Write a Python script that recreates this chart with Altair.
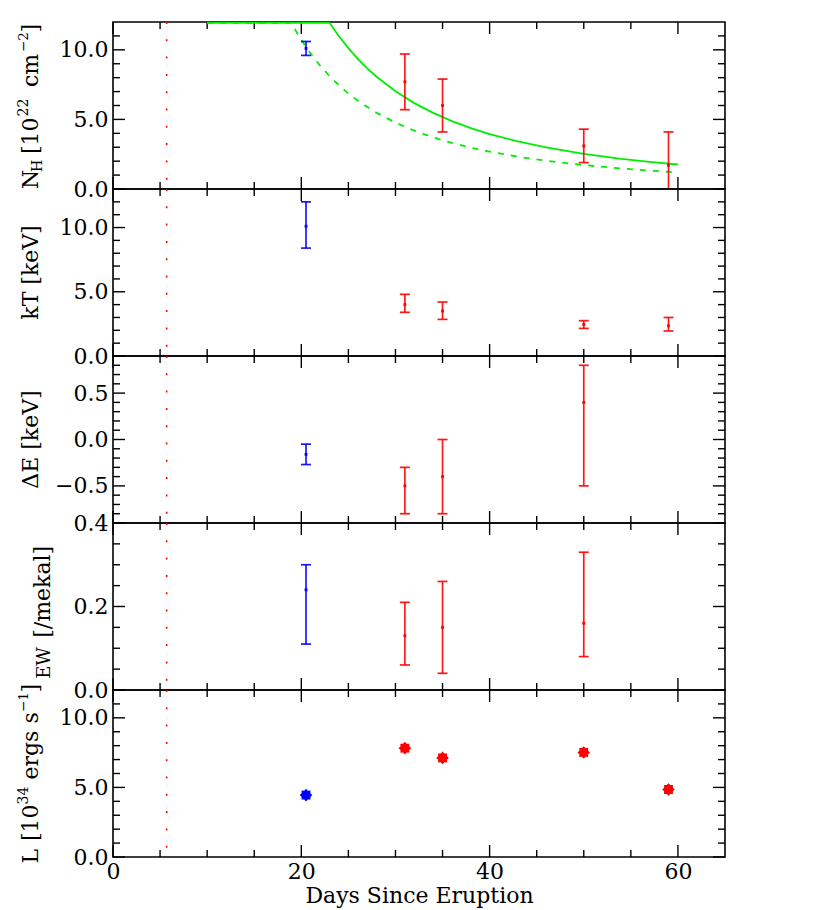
import altair as alt
import pandas as pd

FONT = "'DejaVu Serif', 'Liberation Serif', serif"
W = 612
H = 167

# ---------------- data ----------------
days = [20.5, 31.0, 35.0, 50.0, 59.0]
obs_set = ["first", "later", "later", "later", "later"]

nh = [10.1, 7.7, 6.0, 3.1, 1.7]
nh_lo = [9.6, 5.7, 4.1, 1.9, -1.0]
nh_hi = [10.6, 9.7, 7.9, 4.3, 4.1]

kt = [10.1, 4.0, 3.5, 2.45, 2.35]
kt_lo = [8.4, 3.4, 2.85, 2.15, 1.95]
kt_hi = [12.0, 4.8, 4.2, 2.75, 3.0]

line_days = [20.5, 31.0, 35.0, 50.0]
line_set = ["first", "later", "later", "later"]
de = [-0.16, -0.50, -0.40, 0.40]
de_lo = [-0.27, -0.80, -0.80, -0.50]
de_hi = [-0.05, -0.30, 0.00, 0.80]

ew = [0.24, 0.13, 0.15, 0.16]
ew_lo = [0.11, 0.06, 0.04, 0.08]
ew_hi = [0.30, 0.21, 0.26, 0.33]

lum = [4.45, 7.82, 7.12, 7.51, 4.85]

solid_days = [10, 23.0, 24, 25, 26, 27, 28, 30, 32, 34, 36, 38, 40, 43, 46, 50, 54, 57, 60]
solid_nh = [11.93, 11.93, 10.98, 10.12, 9.35, 8.67, 8.07, 7.03, 6.17, 5.47, 4.88, 4.38, 3.95,
            3.42, 2.99, 2.53, 2.17, 1.95, 1.76]
dashed_days = [10, 18.9, 19.5, 20, 21, 22, 23, 24, 25, 26, 28, 30, 32, 34, 36, 38, 40,
               43, 46, 50, 54, 57, 60]
dashed_nh = [11.93, 11.93, 11.28, 10.72, 9.73, 8.86, 8.11, 7.45, 6.86, 6.34, 5.47, 4.77, 4.19,
             3.71, 3.31, 2.97, 2.68, 2.32, 2.03, 1.72, 1.47, 1.32, 1.19]

eruption_day = [5.7]

# tick positions
x_major = [0, 20, 40, 60]
x_minor = [5, 10, 15, 25, 30, 35, 45, 50, 55]
y12_major = [0, 5, 10]
y12_minor = [1, 2, 3, 4, 6, 7, 8, 9, 11]
y13_minor = [1, 2, 3, 4, 6, 7, 8, 9, 11, 12]
de_major = [-0.5, 0.0, 0.5]
de_minor = [-0.8, -0.7, -0.6, -0.4, -0.3, -0.2, -0.1, 0.1, 0.2, 0.3, 0.4, 0.6, 0.7, 0.8]
ew_major = [0.0, 0.2, 0.4]
ew_minor = [0.05, 0.1, 0.15, 0.25, 0.3, 0.35]

STAR = ("M0,-1L0.287,-0.693L0.707,-0.707L0.693,-0.287L1,0L0.693,0.287L0.707,0.707"
        "L0.287,0.693L0,1L-0.287,0.693L-0.707,0.707L-0.693,0.287L-1,0L-0.693,-0.287"
        "L-0.707,-0.707L-0.287,-0.693Z")

xs = alt.Scale(domain=[0, 65], nice=False, zero=False)
cscale = alt.Scale(domain=["first", "later"], range=["#0000ff", "#ff0000"])
COLOR = alt.Color("set:N", scale=cscale, legend=None)


def y_axis(values, fmt):
    return alt.Axis(values=values, format=fmt, ticks=False, domain=False, grid=False,
                    labelFont=FONT, labelFontSize=22, labelColor="black", labelPadding=5,
                    labelFlush=False, labelOverlap=False, labelBound=False, title=None)


x_axis_bottom = alt.Axis(values=x_major, format="d", ticks=False, domain=False, grid=False,
                         labelFont=FONT, labelFontSize=22, labelColor="black",
                         labelBaseline="alphabetic", labelPadding=21, labelFlush=False,
                         labelOverlap=False, title="Days Since Eruption", titleFont=FONT,
                         titleFontSize=22, titleFontWeight="normal", titleColor="black",
                         titleBaseline="alphabetic", titleY=45)


def tick_layers(ys, yaxis, xaxis, ymaj, ymin):
    out = []
    for vals, ln in ((ymaj, 12), (ymin, 7)):
        df = pd.DataFrame({"v": vals})
        for x0, x1 in ((0, ln), (W - ln, W)):
            out.append(alt.Chart(df).mark_rule(color="black", strokeWidth=1.4).encode(
                y=alt.Y("v:Q", scale=ys, axis=yaxis), x=alt.value(x0), x2=alt.value(x1)))
    for vals, ln in ((x_major, 12), (x_minor, 7)):
        df = pd.DataFrame({"v": vals})
        for y0, y1 in ((0, ln), (H, H - ln)):
            out.append(alt.Chart(df).mark_rule(color="black", strokeWidth=1.4).encode(
                x=alt.X("v:Q", scale=xs, axis=xaxis), y=alt.value(y0), y2=alt.value(y1)))
    return out


def eruption_layer(xaxis):
    return alt.Chart(pd.DataFrame({"d": eruption_day})).mark_rule(
        color="#ff0000", strokeWidth=1.6, strokeDash=[2, 15.3]).encode(
        x=alt.X("d:Q", scale=xs, axis=xaxis), y=alt.value(0), y2=alt.value(H))


def err_layers(xv, setv, val, lo, hi, ys, yaxis, xaxis):
    df = pd.DataFrame({"day": xv, "set": setv, "val": val, "lo": lo, "hi": hi})
    base = alt.Chart(df)
    X = alt.X("day:Q", scale=xs, axis=xaxis)
    rule = base.mark_rule(strokeWidth=1.7, clip=True, opacity=0.9).encode(
        x=X, y=alt.Y("lo:Q", scale=ys, axis=yaxis), y2="hi:Q", color=COLOR)
    cap_lo = base.mark_tick(orient="horizontal", size=10, thickness=1.7, clip=True,
                            opacity=0.9).encode(
        x=X, y=alt.Y("lo:Q", scale=ys, axis=yaxis), color=COLOR)
    cap_hi = base.mark_tick(orient="horizontal", size=10, thickness=1.7, clip=True,
                            opacity=0.9).encode(
        x=X, y=alt.Y("hi:Q", scale=ys, axis=yaxis), color=COLOR)
    pt = base.mark_square(size=8, opacity=1).encode(
        x=X, y=alt.Y("val:Q", scale=ys, axis=yaxis), color=COLOR)
    return [rule, cap_lo, cap_hi, pt]


def txt(t, x, y, size, align="left"):
    return alt.Chart(pd.DataFrame({"a": [0]})).mark_text(
        text=t, angle=270, align=align, baseline="alphabetic", font=FONT,
        fontSize=size, color="black").encode(x=alt.value(x), y=alt.value(y))


# ---------------- panel 1: N_H ----------------
ys1 = alt.Scale(domain=[0, 12], nice=False, zero=False)
ya1 = y_axis(y12_major, ".1f")
curves = [
    alt.Chart(pd.DataFrame({"day": solid_days, "nh": solid_nh})).mark_line(
        color="#00ee00", strokeWidth=1.8, clip=True).encode(
        x=alt.X("day:Q", scale=xs, axis=None), y=alt.Y("nh:Q", scale=ys1, axis=ya1)),
    alt.Chart(pd.DataFrame({"day": dashed_days, "nh": dashed_nh})).mark_line(
        color="#00ee00", strokeWidth=1.8, strokeDash=[6, 7], clip=True).encode(
        x=alt.X("day:Q", scale=xs, axis=None), y=alt.Y("nh:Q", scale=ys1, axis=ya1)),
]
anchor = alt.Chart(pd.DataFrame({"a": [0]})).mark_rule(color="white", strokeWidth=0.5).encode(
    x=alt.value(-103), x2=alt.value(-103), y=alt.value(0), y2=alt.value(1))
p1 = alt.layer(
    *tick_layers(ys1, ya1, None, y12_major, y12_minor),
    eruption_layer(None), *curves,
    *err_layers(days, obs_set, nh, nh_lo, nh_hi, ys1, ya1, None),
    txt("N", -75, 167, 22), txt("H", -71, 150, 14), txt("[10", -75, 132, 22),
    txt("22", -85, 94.5, 14), txt("cm", -75, 65, 22), txt("\u22122", -85, 30, 13.5),
    txt("]", -75, 10.5, 22), anchor,
).properties(width=W, height=H)

# ---------------- panel 2: kT ----------------
ys2 = alt.Scale(domain=[0, 13], nice=False, zero=False)
ya2 = y_axis(y12_major, ".1f")
p2 = alt.layer(
    *tick_layers(ys2, ya2, None, y12_major, y13_minor),
    eruption_layer(None),
    *err_layers(days, obs_set, kt, kt_lo, kt_hi, ys2, ya2, None),
    txt("kT [keV]", -75, H / 2, 22, "center"),
).properties(width=W, height=H)

# ---------------- panel 3: Delta E ----------------
ys3 = alt.Scale(domain=[-0.9, 0.9], nice=False, zero=False)
ya3 = y_axis(de_major, ".1f")
p3 = alt.layer(
    *tick_layers(ys3, ya3, None, de_major, de_minor),
    eruption_layer(None),
    *err_layers(line_days, line_set, de, de_lo, de_hi, ys3, ya3, None),
    txt("\u0394E [keV]", -75, H / 2, 22, "center"),
).properties(width=W, height=H)

# ---------------- panel 4: EW ----------------
ys4 = alt.Scale(domain=[0, 0.4], nice=False, zero=False)
ya4 = y_axis(ew_major, ".1f")
p4 = alt.layer(
    *tick_layers(ys4, ya4, None, ew_major, ew_minor),
    eruption_layer(None),
    *err_layers(line_days, line_set, ew, ew_lo, ew_hi, ys4, ya4, None),
    txt("EW", -63, 155.8, 18), txt("[/mekal]", -63, 114.8, 22),
).properties(width=W, height=H)

# ---------------- panel 5: L ----------------
ys5 = alt.Scale(domain=[0, 12], nice=False, zero=False)
ya5 = y_axis(y12_major, ".1f")
lum_df = pd.DataFrame({"day": days, "set": obs_set, "lum": lum})
stars = alt.Chart(lum_df).mark_point(shape=STAR, filled=True, size=160, opacity=1).encode(
    x=alt.X("day:Q", scale=xs, axis=x_axis_bottom),
    y=alt.Y("lum:Q", scale=ys5, axis=ya5), color=COLOR)
p5 = alt.layer(
    *tick_layers(ys5, ya5, x_axis_bottom, y12_major, y12_minor),
    eruption_layer(x_axis_bottom), stars,
    txt("L", -75, 173.5, 22), txt("[10", -75, 151, 22), txt("34", -85, 114.5, 14),
    txt("ergs", -75, 89.5, 22), txt("s", -75, 33.5, 22), txt("\u22121", -85, 22, 13.5),
    txt("]", -75, 2.5, 22),
).properties(width=W, height=H)

chart = alt.vconcat(p1, p2, p3, p4, p5, spacing=0, bounds="flush").resolve_scale(
    y="independent").properties(
    padding={"left": 0, "top": 12, "right": 5, "bottom": 5}, background="white"
).configure_view(stroke="black", strokeWidth=1.6)

chart.save("out.html", embed_options={"renderer": "svg", "actions": False})
